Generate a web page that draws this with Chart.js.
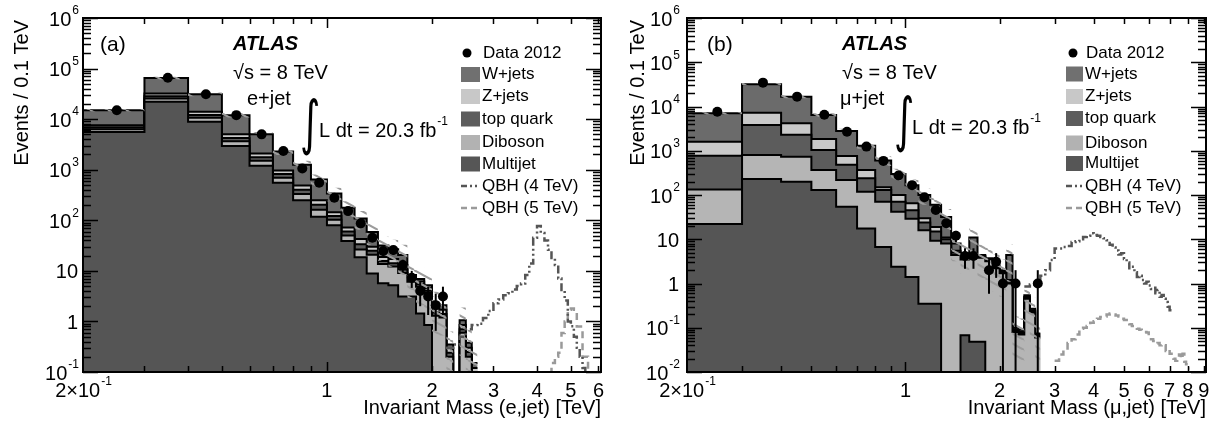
<!DOCTYPE html>
<html>
<head>
<meta charset="utf-8">
<script src="https://cdn.jsdelivr.net/npm/chart.js@4.4.1/dist/chart.umd.min.js"></script>
<style>
  html, body { margin: 0; padding: 0; background: #fff; }
  #wrap { position: relative; width: 1219px; height: 425px; overflow: hidden; }
  canvas { position: absolute; top: 0; }
</style>
</head>
<body>
<div id="wrap">
  <canvas id="chartA" width="610" height="425" style="left:0"></canvas>
  <canvas id="chartB" width="609" height="425" style="left:610px"></canvas>
</div>
<script>
// Events / 0.1 TeV, low edge of each bin in TeV
const BIN_W = 0.1;

// ---- (a) e+jet ----
const binLowA = [0.2, 0.3, 0.4, 0.5, 0.6, 0.7, 0.8, 0.9, 1.0, 1.1, 1.2, 1.3, 1.4, 1.5, 1.6, 1.7, 1.8, 1.9, 2.0, 2.1, 2.2, 2.3, 2.4, 2.5, 2.6];
const multijetA = [5600, 22000, 8900, 2960, 1200, 550, 250, 117, 80, 39, 18.5, 8.9, 5.7, 5.2, 3.1, 3.1, 1.44, 0.85, 0, 0, 0, 0, 0, 0, 0];
const dibosonA = [700, 3500, 1700, 700, 300, 140, 80, 45, 22, 11, 8, 12, 8, 7, 6, 3, 3.4, 2.8, 1.3, 1.2, 0.2, 0, 0.6, 0.2, 0.08];
const topA = [600, 3000, 1500, 600, 270, 130, 70, 40, 20, 10, 7, 4, 2, 2, 1.5, 0.6, 0.6, 0.4, 0.2, 0.2, 0.04, 0, 0.1, 0.05, 0.02];
const zjetsA = [700, 3500, 1900, 740, 330, 150, 90, 48, 23, 12, 9, 5, 3, 3, 2.5, 0.8, 0.7, 0.5, 0.3, 0.3, 0.05, 0, 0.15, 0.05, 0.02];
const wjetsA = [7400, 33000, 17000, 7000, 2900, 1330, 760, 390, 195, 105, 66, 29, 13, 9.5, 7.5, 0.8, 0.8, 0.65, 0.4, 0.4, 0.06, 0, 0.2, 0.08, 0.03];
const bkgErrA = [0.06, 0.06, 0.08, 0.1, 0.12, 0.15, 0.2, 0.25, 0.3, 0.35, 0.4, 0.45, 0.5, 0.55, 0.6, 0.65, 0.7, 0.7, 0.75, 0.75, 0.8, 0, 0.8, 0.8, 0.8];
const dataA = [15000, 66000, 31000, 12000, 5000, 2340, 1060, 551, 279, 152, 87, 45, 24.6, 25.8, 13, 7.3, 4.0, 3.1, 2.1, 3.1, null, null, null, null, null];
const qbh4BinA = [2.2, 2.3, 2.4, 2.5, 2.6, 2.7, 2.8, 2.9, 3.0, 3.1, 3.2, 3.3, 3.4, 3.5, 3.6, 3.7, 3.8, 3.9, 4.0, 4.1, 4.2, 4.3, 4.4, 4.5, 4.6, 4.7, 4.8, 4.9, 5.0, 5.1, 5.2, 5.3, 5.4, 5.5, 5.6];
const qbh4A = [0.3, 0.35, 0.5, 0.7, 0.85, 0.9, 1.17, 1.6, 2.3, 2.7, 3.3, 3.6, 4.3, 5.0, 5.6, 8.3, 14, 45, 77, 56, 40, 26, 18, 13, 7.1, 4.2, 2.6, 1.0, 0.8, 0.5, 0.3, 0.2, 0.12, 0.08, 0.05];
const qbh5BinA = [4.3, 4.4, 4.5, 4.6, 4.7, 4.8, 4.9, 5.0, 5.1, 5.2, 5.3, 5.4, 5.5, 5.6];
const qbh5A = [0.06, 0.15, 0.2, 0.24, 0.59, 1.0, 1.7, 1.8, 1.7, 0.79, 0.79, 0.2, 0.2, 0.05];
const xTickValA = [0.2, 1, 2, 3, 4, 5, 6];
const xTickTextA = ['2×10^-1', '1', '2', '3', '4', '5', '6'];
const yTickValA = [0.1, 1, 10, 100, 1e3, 1e4, 1e5, 1e6];
const yTickTextA = ['10^-1', '1', '10', '10^2', '10^3', '10^4', '10^5', '10^6'];

// ---- (b) mu+jet ----
const binLowB = [0.2, 0.3, 0.4, 0.5, 0.6, 0.7, 0.8, 0.9, 1.0, 1.1, 1.2, 1.3, 1.4, 1.5, 1.6, 1.7, 1.8, 1.9, 2.0, 2.1, 2.2, 2.3, 2.4, 2.5, 2.6];
const multijetB = [22, 230, 200, 129, 54, 17.5, 6.7, 2.4, 1.4, 0.35, 0.35, 0, 0, 0.068, 0.048, 0.048, 0, 0, 0, 0, 0, 0, 0, 0, 0];
const dibosonB = [112, 570, 530, 236, 163, 100.5, 63.3, 39.6, 27.6, 15.65, 8.95, 8, 4.4, 3.43, 3.95, 3.75, 3.2, 2.2, 1.7, 1.0, 0.08, 0.07, 0.45, 0.22, 0.06];
const topB = [636, 3000, 1570, 675, 263, 122, 60, 28, 16, 8, 5.7, 2, 0.6, 0.3, 0.2, 0.2, 0.2, 0.1, 0.1, 0.1, 0.005, 0.005, 0.03, 0.02, 0.005];
const zjetsB = [830, 3400, 1900, 810, 280, 125, 20, 30, 20, 6, 4, 1, 0.5, 0.2, 0.2, 0.2, 0.1, 0.1, 0.1, 0.1, 0.005, 0.005, 0.02, 0.01, 0.005];
const wjetsB = [5400, 24800, 12400, 4550, 2040, 935, 450, 200, 102, 70, 41, 21, 2.5, 0.8, 6.6, 0.2, 0.2, 0.2, 0.1, 3.2, 0.01, 0.01, 0.04, 0.02, 0.004];
const bkgErrB = [0.06, 0.06, 0.08, 0.1, 0.12, 0.15, 0.25, 0.3, 0.35, 0.4, 0.45, 0.5, 0.6, 0.65, 0.65, 0.7, 0.75, 0.75, 0.75, 0.75, 0.8, 0.8, 0.8, 0.8, 0.8];
const dataB = [7600, 34600, 16700, 6500, 2700, 1240, 590, 275, 167, 89, 46, 23, 12, 4.2, 4.2, null, 2.0, 3.1, 1.0, null, 1.0, null, null, null, 1.0];
const qbh4BinB = [2.4, 2.5, 2.6, 2.7, 2.8, 2.9, 3.0, 3.1, 3.2, 3.3, 3.4, 3.5, 3.6, 3.7, 3.8, 3.9, 4.0, 4.1, 4.2, 4.3, 4.4, 4.5, 4.6, 4.7, 4.8, 4.9, 5.0, 5.1, 5.2, 5.3, 5.4, 5.5, 5.6, 5.7, 5.8, 5.9, 6.0, 6.1, 6.2, 6.3, 6.4, 6.5, 6.6, 6.7, 6.8, 6.9, 7.0];
const qbh4B = [0.85, 0.95, 1.0, 1.5, 2.0, 3.4, 6.2, 6.2, 6.7, 7.0, 8.7, 9.0, 10, 11.2, 12, 13.6, 12.5, 12, 11.2, 10.5, 9.5, 7.5, 6.5, 5.6, 4.5, 4.8, 3.6, 3.0, 2.2, 2.4, 1.8, 1.4, 1.5, 1.2, 1.0, 1.1, 0.9, 0.75, 0.8, 0.6, 0.71, 0.5, 0.55, 0.45, 0.38, 0.3, 0.25];
const qbh5BinB = [3.0, 3.1, 3.2, 3.3, 3.4, 3.5, 3.6, 3.7, 3.8, 3.9, 4.0, 4.1, 4.2, 4.3, 4.4, 4.5, 4.6, 4.7, 4.8, 4.9, 5.0, 5.1, 5.2, 5.3, 5.4, 5.5, 5.6, 5.7, 5.8, 5.9, 6.0, 6.1, 6.2, 6.3, 6.4, 6.5, 6.6, 6.7, 6.8, 6.9, 7.0, 7.1, 7.2, 7.3, 7.4, 7.5, 7.6, 7.7, 7.8, 7.9, 8.0];
const qbh5B = [0.018, 0.025, 0.032, 0.045, 0.055, 0.07, 0.095, 0.1, 0.11, 0.13, 0.14, 0.16, 0.175, 0.18, 0.2, 0.21, 0.2, 0.19, 0.18, 0.16, 0.15, 0.15, 0.12, 0.11, 0.1, 0.095, 0.09, 0.085, 0.08, 0.078, 0.06, 0.055, 0.05, 0.044, 0.045, 0.04, 0.042, 0.04, 0.03, 0.032, 0.026, 0.024, 0.02, 0.018, 0.022, 0.025, 0.02, 0.026, 0.017, 0.015, 0.012];
const xTickValB = [0.2, 1, 2, 3, 4, 5, 6, 7, 8, 9];
const xTickTextB = ['2×10^-1', '1', '2', '3', '4', '5', '6', '7', '8', '9'];
const yTickValB = [0.01, 0.1, 1, 10, 100, 1e3, 1e4, 1e5, 1e6];
const yTickTextB = ['10^-2', '10^-1', '1', '10', '10^2', '10^3', '10^4', '10^5', '10^6'];

const legendLabels = ['Data 2012', 'W+jets', 'Z+jets', 'top quark', 'Diboson', 'Multijet', 'QBH (4 TeV)', 'QBH (5 TeV)'];

// stack from the bottom: Multijet, Diboson, top quark, Z+jets, W+jets
const stackColors = ['#555555', '#b5b5b5', '#5c5c5c', '#c9c9c9', '#6b6b6b'];
const swatchColors = { 'W+jets': '#707070', 'Z+jets': '#c8c8c8', 'top quark': '#5d5d5d', 'Diboson': '#b2b2b2', 'Multijet': '#565656' };
const QBH4_COLOR = '#555555';
const QBH5_COLOR = '#9a9a9a';
const QBH4_DASH = [8, 3, 2, 3, 2, 3];
const QBH5_DASH = [7, 5];

const FONT = '"Liberation Sans", Arial, Helvetica, sans-serif';
const font = (size, extra) => (extra ? extra + ' ' : '') + size + 'px ' + FONT;

// histogram as stepped points: one per low edge plus the closing edge
const hist = (low, vals, floor) => {
    const pts = low.map((x, i) => ({ x, y: vals[i] > 0 ? vals[i] : floor }));
    const last = low[low.length - 1];
    pts.push({ x: +(last + BIN_W).toFixed(3), y: pts[pts.length - 1].y });
    return pts;
};

const hatchPattern = (ctx) => {
    const c = document.createElement('canvas');
    c.width = 18; c.height = 10;
    const g = c.getContext('2d');
    g.strokeStyle = '#9c9c9c';
    g.lineWidth = 2;
    g.beginPath();
    [-18, 0, 18].forEach((k) => { g.moveTo(k, 0); g.lineTo(k + 18, 10); });
    g.stroke();
    return ctx.createPattern(c, 'repeat');
};

// "10^2" style label with raised exponent
const drawLabel = (ctx, text, x, y, align, size) => {
    const [base, sup] = text.split('^');
    const ss = Math.round(size * 0.62);
    ctx.font = font(size);
    const wb = ctx.measureText(base).width;
    ctx.font = font(ss);
    const ws = sup ? ctx.measureText(sup).width : 0;
    const w = wb + ws;
    const x0 = align === 'right' ? x - w : align === 'center' ? x - w / 2 : x;
    ctx.textAlign = 'left';
    ctx.textBaseline = 'middle';
    ctx.font = font(size);
    ctx.fillText(base, x0, y);
    if (sup) {
        ctx.font = font(ss);
        ctx.fillText(sup, x0 + wb + 1, y - size * 0.45);
    }
};

const makeDecor = (p) => ({
    id: 'atlasDecor',
    afterDatasetsDraw(chart) {
        // Poisson error bars on data
        const { ctx, chartArea: a, scales: { x, y } } = chart;
        ctx.save();
        ctx.beginPath();
        ctx.rect(a.left, a.top, a.right - a.left, a.bottom - a.top);
        ctx.clip();
        ctx.strokeStyle = '#000';
        ctx.lineWidth = 2;
        p.bins.forEach((b, i) => {
            const n = p.data[i];
            if (n == null) return;
            const px = x.getPixelForValue(b + BIN_W / 2);
            const e = Math.sqrt(n);
            const lo = n - e > 0 ? y.getPixelForValue(n - e) : a.bottom;
            ctx.beginPath();
            ctx.moveTo(px, y.getPixelForValue(n + e));
            ctx.lineTo(px, lo);
            ctx.stroke();
        });
        ctx.restore();
    },
    afterDraw(chart) {
        const { ctx, chartArea: a, scales: { x, y } } = chart;
        ctx.save();
        ctx.fillStyle = '#000';
        ctx.strokeStyle = '#000';

        // ticks, drawn inward on all four sides
        ctx.lineWidth = 1.5;
        ctx.beginPath();
        for (let k = -3; k <= 6; k++) {
            for (let m = 1; m <= 9; m++) {
                const v = m * Math.pow(10, k);
                if (v < y.min * 0.999 || v > y.max * 1.001) continue;
                const py = Math.round(y.getPixelForValue(v)) + 0.5;
                const len = m === 1 ? 15 : 8;
                ctx.moveTo(a.left, py); ctx.lineTo(a.left + len, py);
                ctx.moveTo(a.right, py); ctx.lineTo(a.right - len, py);
            }
            for (let m = 1; m <= 9; m++) {
                const v = m * Math.pow(10, k);
                if (v < x.min * 1.001 || v > x.max * 0.999) continue;
                const px = Math.round(x.getPixelForValue(v)) + 0.5;
                const len = v === 1 ? 10 : 6;
                ctx.moveTo(px, a.bottom); ctx.lineTo(px, a.bottom - len);
                ctx.moveTo(px, a.top); ctx.lineTo(px, a.top + len);
            }
        }
        ctx.stroke();

        // frame
        ctx.lineWidth = 2;
        ctx.strokeRect(a.left, a.top, a.right - a.left, a.bottom - a.top);

        // tick labels
        p.yTickVal.forEach((v, i) => drawLabel(ctx, p.yTickText[i], a.left - p.yLabelGap, y.getPixelForValue(v) + 2, 'right', 20));
        p.xTickVal.forEach((v, i) => drawLabel(ctx, p.xTickText[i], x.getPixelForValue(v), 391, 'center', 20));

        // axis titles
        ctx.font = font(20);
        ctx.textBaseline = 'middle';
        ctx.textAlign = 'right';
        ctx.fillText(p.xTitle, a.right, 408);
        ctx.save();
        ctx.translate(p.yTitleX, 20);
        ctx.rotate(-Math.PI / 2);
        ctx.fillText('Events / 0.1 TeV', 0, 0);
        ctx.restore();

        // annotations
        const t = p.text;
        ctx.textAlign = 'left';
        ctx.font = font(21);
        ctx.fillText(p.tag, t.tagX, 45);
        ctx.font = font(20, 'italic bold');
        ctx.fillText('ATLAS', t.atlasX, 44);
        ctx.font = font(20);
        ctx.fillText('√s = 8 TeV', t.atlasX, 73);
        ctx.fillText(p.channel, t.chanX, 99);
        ctx.save();
        ctx.translate(t.intX, t.lumiY - 3);
        ctx.scale(1.15, 1.75);
        ctx.font = '34px "DejaVu Sans", sans-serif';
        ctx.textBaseline = 'middle';
        ctx.fillText('∫', 0, 0);
        ctx.restore();
        drawLabel(ctx, 'L dt = 20.3 fb^-1', t.lumiX, t.lumiY, 'left', 20);

        // legend
        const L = p.legend;
        legendLabels.forEach((label, i) => {
            const ry = L.rows[i];
            if (i === 0) {
                ctx.beginPath();
                ctx.arc(L.dotX, ry, 4.5, 0, Math.PI * 2);
                ctx.fill();
                ctx.font = font(17);
                ctx.textAlign = 'left';
                ctx.fillText(label, L.textX + 1, ry);
                return;
            }
            if (swatchColors[label]) {
                ctx.fillStyle = swatchColors[label];
                ctx.fillRect(L.boxX, ry - 7.5, L.boxW, 15);
            } else {
                ctx.save();
                ctx.strokeStyle = i === 6 ? QBH4_COLOR : QBH5_COLOR;
                ctx.lineWidth = 2.5;
                ctx.setLineDash(i === 6 ? [6, 3, 2, 3, 2, 3] : [6, 4]);
                ctx.beginPath();
                ctx.moveTo(L.boxX, ry);
                ctx.lineTo(L.boxX + L.boxW, ry);
                ctx.stroke();
                ctx.restore();
            }
            ctx.fillStyle = '#000';
            ctx.font = font(17);
            ctx.textAlign = 'left';
            ctx.fillText(label, L.textX, ry);
        });
        ctx.restore();
    }
});

const makePanel = (canvasId, p) => {
    const canvas = document.getElementById(canvasId);
    const ctx = canvas.getContext('2d');
    const floor = p.yMin / 100;
    const layers = [p.multijet, p.diboson, p.top, p.zjets, p.wjets];
    let run = p.bins.map(() => 0);
    const cum = layers.map((l) => (run = run.map((s, i) => s + l[i])));
    const total = cum[cum.length - 1];
    const hatch = hatchPattern(ctx);

    const datasets = [
        {
            label: 'Data 2012',
            data: p.bins.map((b, i) => (p.data[i] == null ? null : { x: b + BIN_W / 2, y: p.data[i] })).filter(Boolean),
            showLine: false,
            pointRadius: 5,
            pointBackgroundColor: '#000',
            pointBorderColor: '#000',
            pointBorderWidth: 0,
            order: 0,
        },
        {
            label: 'QBH (4 TeV)',
            data: hist(p.qbh4Bin, p.qbh4, floor),
            borderColor: QBH4_COLOR,
            borderWidth: 2.5,
            borderDash: QBH4_DASH,
            stepped: true,
            fill: false,
            pointRadius: 0,
            order: 1,
        },
        {
            label: 'QBH (5 TeV)',
            data: hist(p.qbh5Bin, p.qbh5, floor),
            borderColor: QBH5_COLOR,
            borderWidth: 2.5,
            borderDash: QBH5_DASH,
            stepped: true,
            fill: false,
            pointRadius: 0,
            order: 1,
        },
        {
            label: 'uncertainty',
            data: hist(p.bins, total.map((v, i) => v * (1 + p.err[i])), floor),
            borderWidth: 0,
            backgroundColor: hatch,
            stepped: true,
            fill: '+1',
            pointRadius: 0,
            order: 2,
        },
        {
            label: 'uncertainty low',
            data: hist(p.bins, total.map((v, i) => v * (1 - p.err[i])), floor),
            borderWidth: 0,
            stepped: true,
            fill: false,
            pointRadius: 0,
            order: 3,
        },
    ];
    ['Multijet', 'Diboson', 'top quark', 'Z+jets', 'W+jets'].forEach((name, k) => {
        datasets.push({
            label: name,
            data: hist(p.bins, cum[k], floor),
            backgroundColor: stackColors[k],
            borderColor: '#000',
            borderWidth: 2,
            stepped: true,
            fill: 'start',
            pointRadius: 0,
            order: 4 + k,
        });
    });

    return new Chart(ctx, {
        type: 'line',
        data: { datasets },
        options: {
            responsive: false,
            devicePixelRatio: 1,
            animation: false,
            events: [],
            layout: { padding: p.padding },
            plugins: { legend: { display: false }, tooltip: { enabled: false } },
            elements: { line: { tension: 0 } },
            scales: {
                x: { type: 'logarithmic', min: p.xMin, max: p.xMax, display: false },
                y: { type: 'logarithmic', min: p.yMin, max: p.yMax, display: false },
            },
        },
        plugins: [makeDecor(p)],
    });
};

makePanel('chartA', {
    bins: binLowA, multijet: multijetA, diboson: dibosonA, top: topA, zjets: zjetsA, wjets: wjetsA,
    err: bkgErrA, data: dataA, qbh4Bin: qbh4BinA, qbh4: qbh4A, qbh5Bin: qbh5BinA, qbh5: qbh5A,
    xTickVal: xTickValA, xTickText: xTickTextA, yTickVal: yTickValA, yTickText: yTickTextA,
    xMin: 0.2, xMax: 6.1, yMin: 0.1, yMax: 1e6,
    padding: { left: 83, right: 9, top: 18, bottom: 53 },
    yLabelGap: 5, yTitleX: 22,
    xTitle: 'Invariant Mass (e,jet) [TeV]', tag: '(a)', channel: 'e+jet',
    text: { tagX: 100, atlasX: 233, chanX: 247, intX: 300, lumiX: 319, lumiY: 131 },
    legend: { dotX: 467, boxX: 461, boxW: 19, textX: 482, rows: [53, 74.5, 96.5, 119, 142.5, 164, 186, 208] },
});

makePanel('chartB', {
    bins: binLowB, multijet: multijetB, diboson: dibosonB, top: topB, zjets: zjetsB, wjets: wjetsB,
    err: bkgErrB, data: dataB, qbh4Bin: qbh4BinB, qbh4: qbh4B, qbh5Bin: qbh5BinB, qbh5: qbh5B,
    xTickVal: xTickValB, xTickText: xTickTextB, yTickVal: yTickValB, yTickText: yTickTextB,
    xMin: 0.2, xMax: 9.15, yMin: 0.01, yMax: 1e6,
    padding: { left: 77, right: 13, top: 18, bottom: 53 },
    yLabelGap: 8, yTitleX: 28,
    xTitle: 'Invariant Mass (\u03bc,jet) [TeV]', tag: '(b)', channel: '\u03bc+jet',
    text: { tagX: 97, atlasX: 232, chanX: 230, intX: 284, lumiX: 302, lumiY: 128 },
    legend: { dotX: 463, boxX: 456, boxW: 17, textX: 475, rows: [53, 74, 96.5, 118.5, 143, 163.5, 186, 208] },
});
</script>
</body>
</html>
